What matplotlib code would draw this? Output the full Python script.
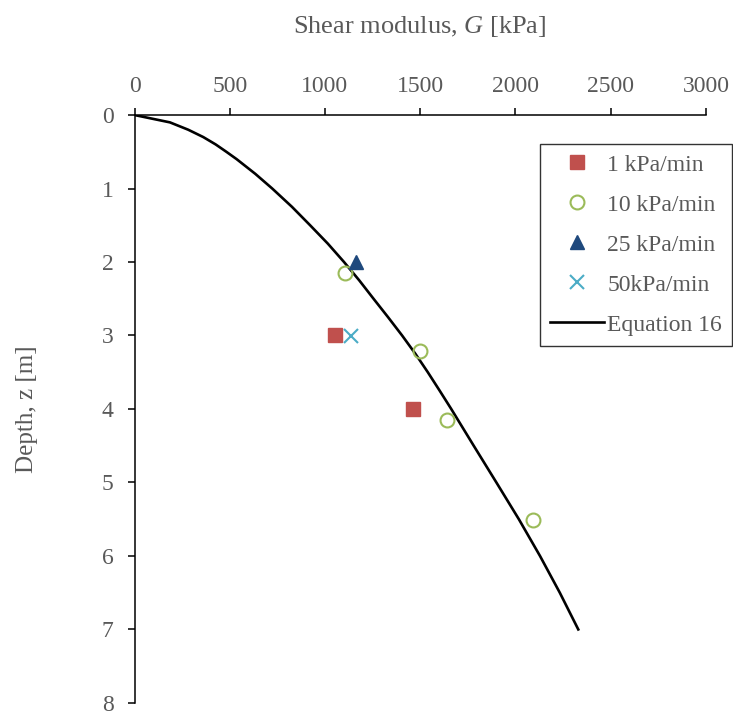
import matplotlib
matplotlib.use("Agg")
import matplotlib.pyplot as plt

plt.rcParams['font.family'] = ['Liberation Serif', 'DejaVu Serif']
plt.rcParams['mathtext.fontset'] = 'custom'
plt.rcParams['mathtext.rm'] = 'Liberation Serif'
plt.rcParams['mathtext.it'] = 'Liberation Serif:italic'

GRAY = '#595959'

# Equation 16 curve
eq_z = [0, 0.1, 0.2, 0.3, 0.4, 0.5, 0.6, 0.8, 1.0, 1.25, 1.5, 1.75, 2.0, 2.25, 2.5,
        2.75, 3.0, 3.25, 3.5, 3.75, 4.0, 4.25, 4.5, 5.0, 5.5, 6.0, 6.5, 7.0]
eq_g = [0, 186, 282, 361, 426, 482, 536, 634, 723, 827, 922, 1015, 1100, 1180, 1255,
        1331, 1405, 1475, 1540, 1602, 1663, 1722, 1781, 1900, 2018, 2129, 2233, 2330]

# test points
z_1 = [3.0, 4.0]
g_1 = [1052, 1461]
z_10 = [2.15, 3.21, 4.15, 5.51]
g_10 = [1104, 1501, 1643, 2090]
z_25 = [2.0]
g_25 = [1165]
z_50 = [3.01]
g_50 = [1139]

fig = plt.figure(figsize=(7.33, 7.18), dpi=100)
ax = fig.add_axes([0.1835, 0.021, 0.7795, 0.8188])

ax.plot(g_1, z_1, 's', ms=10.5, color='#C0504D', label='1 kPa/min', zorder=3)
ax.plot(g_10, z_10, 'o', ms=10, mfc='none', mec='#9BBB59', mew=1.5, label='10 kPa/min', zorder=3)
ax.plot(g_25, z_25, '^', ms=10.5, color='#1F497D', label='25 kPa/min', zorder=3)
ax.plot(g_50, z_50, 'x', ms=10, mew=1.5, color='#4BACC6', label='50kPa/min', zorder=3)
ax.plot(eq_g, eq_z, '-', color='black', lw=1.9, label='Equation 16', zorder=2,
        solid_joinstyle='round')

ax.set_xlim(0, 3000)
ax.set_ylim(8, 0)
ax.set_xticks(range(0, 3001, 500))
ax.set_yticks(range(0, 9))
ax.xaxis.tick_top()
ax.xaxis.set_label_position('top')
ax.spines['right'].set_visible(False)
ax.spines['bottom'].set_visible(False)
for s in ('left', 'top'):
    ax.spines[s].set_linewidth(1.1)
ax.tick_params(axis='x', direction='out', length=5, width=1.1, pad=8, labelsize=17, labelcolor=GRAY)
ax.tick_params(axis='y', direction='out', length=5, width=1.1, pad=10, labelsize=17, labelcolor=GRAY)
for lab in ax.get_xticklabels() + ax.get_yticklabels():
    lab.set_clip_on(False)

ax.set_xlabel('Shear modulus, $\\mathit{G}$ [kPa]', fontsize=19, color=GRAY, labelpad=31)
ax.set_ylabel('Depth, z [m]', fontsize=18, color=GRAY, labelpad=46)

leg = ax.legend(loc='upper right', bbox_to_anchor=(0.9993, 0.8), bbox_transform=fig.transFigure,
                fontsize=17, frameon=True, fancybox=False, edgecolor='black',
                labelspacing=0.78, handlelength=2.25, handletextpad=0.15, borderpad=0.45,
                borderaxespad=0)
leg.get_frame().set_linewidth(1.0)
for t in leg.get_texts():
    t.set_color(GRAY)

fig.savefig('out.png', dpi=100)
